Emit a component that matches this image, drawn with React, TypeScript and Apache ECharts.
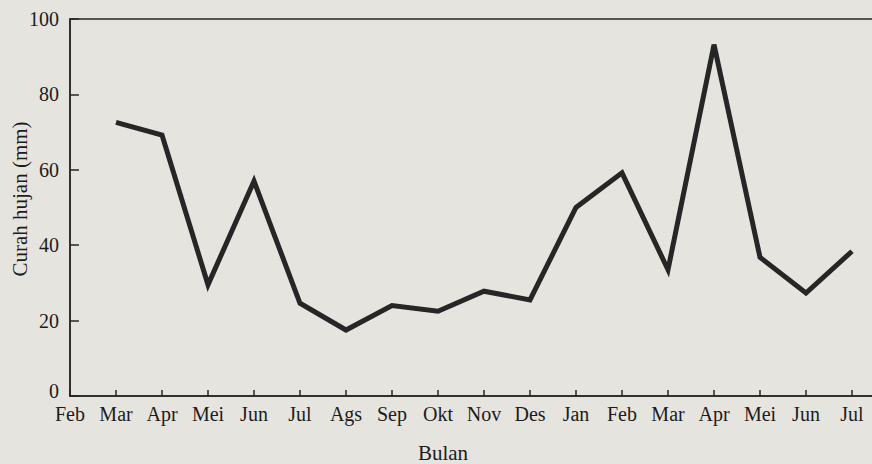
import React, { useEffect, useRef } from "react";
import * as echarts from "echarts";

const months = ["Feb", "Mar", "Apr", "Mei", "Jun", "Jul", "Ags", "Sep", "Okt", "Nov", "Des", "Jan", "Feb", "Mar", "Apr", "Mei", "Jun", "Jul", ""];
const rainfall = [null, 72.6, 69.2, 29.5, 57.0, 24.6, 17.5, 24.0, 22.5, 27.8, 25.5, 50.0, 59.2, 33.5, 93.2, 36.8, 27.3, 38.4, null];
const yTicks = { min: 0, max: 100, interval: 20 };
const xTitle = "Bulan";
const yTitle = "Curah hujan (mm)";

const FONT = "'Liberation Serif', 'Times New Roman', serif";
const INK = "#262626";
const TXT = "#1c1c1c";
const BG = "#e6e4df";

export default function App() {
  const ref = useRef<HTMLDivElement>(null);
  useEffect(() => {
    document.body.style.margin = "0";
    if (!ref.current) return;
    const chart = echarts.init(ref.current, null, { renderer: "svg" });
    chart.setOption({
      animation: false,
      backgroundColor: BG,
      textStyle: { fontFamily: FONT },
      grid: {
        left: 70,
        right: 22,
        top: 19,
        bottom: 68,
        show: true,
        borderColor: INK,
        borderWidth: 1.5,
        backgroundColor: "transparent",
      },
      xAxis: {
        type: "category",
        data: months,
        boundaryGap: false,
        axisLine: { lineStyle: { color: INK, width: 1.5 } },
        axisTick: { inside: true, length: 6, lineStyle: { color: INK, width: 1.5 } },
        axisLabel: { color: TXT, fontFamily: FONT, fontSize: 20, margin: 8, interval: 0 },
        splitLine: { show: false },
      },
      yAxis: {
        type: "value",
        min: yTicks.min,
        max: yTicks.max,
        interval: yTicks.interval,
        axisLine: { show: true, lineStyle: { color: INK, width: 1.5 } },
        axisTick: { show: true, inside: true, length: 9, lineStyle: { color: INK, width: 1.5 } },
        axisLabel: {
          color: TXT,
          fontFamily: FONT,
          fontSize: 20,
          margin: 11,
          formatter: (v: number) => (v === 0 ? "{z|0}" : String(v)),
          rich: { z: { fontFamily: FONT, fontSize: 20, color: TXT, padding: [0, 0, 10, 0] } },
        },
        splitLine: { show: false },
      },
      graphic: [
        {
          type: "text",
          x: 443,
          y: 453,
          style: {
            text: xTitle,
            fill: TXT,
            font: `21px ${FONT}`,
            textAlign: "center",
            textVerticalAlign: "middle",
          },
        },
        {
          type: "text",
          x: 20,
          y: 199,
          rotation: Math.PI / 2,
          style: {
            text: yTitle,
            fill: TXT,
            font: `21px ${FONT}`,
            textAlign: "center",
            textVerticalAlign: "middle",
          },
        },
      ],
      series: [
        {
          type: "line",
          data: rainfall,
          showSymbol: false,
          symbol: "none",
          connectNulls: false,
          lineStyle: { color: INK, width: 5, join: "miter" },
        },
      ],
    });
    return () => chart.dispose();
  }, []);
  return (
    <div style={{ width: 872, height: 464, overflow: "hidden", background: BG }}>
      <div ref={ref} style={{ width: 920, height: 464 }} />
    </div>
  );
}
